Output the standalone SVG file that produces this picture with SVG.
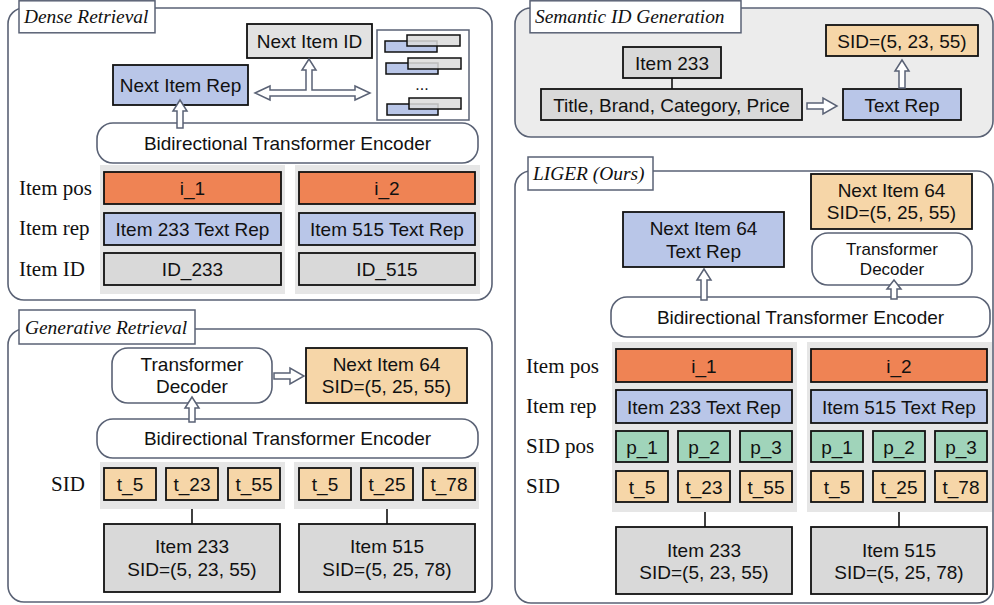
<svg xmlns="http://www.w3.org/2000/svg" width="994" height="605" viewBox="0 0 994 605">
<style>
.panel{fill:#ffffff;stroke:#5a6275;stroke-width:1.6}
.panelg{fill:#ececec;stroke:#5a6275;stroke-width:1.6}
.ttl{fill:#ffffff;stroke:#5a6275;stroke-width:1.5}
.ttlt{font-family:"Liberation Serif","Times New Roman",serif;font-style:italic;font-size:19.4px;fill:#111}
.lbl{font-family:"Liberation Serif","Times New Roman",serif;font-size:21px;fill:#111}
.t{font-family:"Liberation Sans",Arial,sans-serif;font-size:19px;fill:#111;text-anchor:middle}
.ts{font-family:"Liberation Sans",Arial,sans-serif;font-size:17px;fill:#111;text-anchor:middle}
.box{stroke:#111;stroke-width:1.8}
.round{fill:#ffffff;stroke:#5a6275;stroke-width:1.6}
.bg{fill:#e6e6e6}
.or{fill:#ef8354}
.bl{fill:#b9c6e8}
.lo{fill:#f6d6a8}
.gr{fill:#a0d4ba}
.gy{fill:#d9d9d9}
.gy2{fill:#e2e2e2}
.arr{fill:#ffffff;stroke:#5a6275;stroke-width:1.5;stroke-linejoin:miter}
.ln{stroke:#111;stroke-width:1.6;fill:none}
</style>

<!-- Panels -->
<g id="panel-dense">
<rect class="panel" x="8" y="8" width="484" height="292" rx="16"/>
<rect class="ttl" x="19" y="0.8" width="136" height="32"/>
<text class="ttlt" x="24" y="23">Dense Retrieval</text>
</g>
<g id="panel-generative">
<rect class="panel" x="8" y="329" width="484" height="273" rx="16"/>
<rect class="ttl" x="19" y="310" width="176" height="34"/>
<text class="ttlt" x="25" y="334">Generative Retrieval</text>
</g>
<g id="panel-semantic">
<rect class="panelg" x="515" y="8" width="478" height="129" rx="16"/>
<rect class="ttl" x="530" y="0.8" width="211" height="32"/>
<text class="ttlt" x="535" y="23">Semantic ID Generation</text>
</g>
<g id="panel-liger">
<rect class="panel" x="515" y="171" width="478" height="432" rx="16"/>
<rect class="ttl" x="528" y="157" width="125" height="33"/>
<text class="ttlt" x="533" y="180">LIGER (Ours)</text>
</g>

<!-- Dense Retrieval -->
<g id="dense-labels">
<text class="lbl" x="19" y="195">Item pos</text>
<text class="lbl" x="19" y="235">Item rep</text>
<text class="lbl" x="19" y="276">Item ID</text>
</g>
<g id="dense-bg">
<rect class="bg" x="100" y="165" width="185" height="129"/>
<rect class="bg" x="295" y="165" width="185" height="129"/>
</g>
<g id="dense-encoder">
<rect class="round" x="97" y="123" width="381" height="40" rx="16"/>
<text class="t" x="287.5" y="149.5">Bidirectional Transformer Encoder</text>
</g>
<g id="dense-next-rep">
<rect class="box bl" x="113" y="65" width="135" height="40"/>
<text class="t" x="180.5" y="91.5">Next Item Rep</text>
</g>
<g id="dense-next-id">
<rect class="box gy2" x="247" y="24" width="125" height="34"/>
<text class="t" x="309.5" y="47.5">Next Item ID</text>
</g>
<g id="dense-index">
<rect x="377" y="30" width="92" height="90" fill="#ffffff" stroke="#5a6275" stroke-width="1.5"/>
<rect class="bl" x="385" y="41" width="52" height="11" stroke="#111" stroke-width="1.5"/>
<rect x="407" y="35" width="53" height="11" fill="#dcdcdc" fill-opacity="0.85" stroke="#111" stroke-width="1.5"/>
<rect class="bl" x="386" y="63" width="52" height="11" stroke="#111" stroke-width="1.5"/>
<rect x="408" y="58" width="53" height="11" fill="#dcdcdc" fill-opacity="0.85" stroke="#111" stroke-width="1.5"/>
<text class="t" x="422" y="90" style="font-size:16px">...</text>
<rect class="bl" x="387" y="104" width="51" height="11" stroke="#111" stroke-width="1.5"/>
<rect x="409" y="98" width="52" height="11" fill="#dcdcdc" fill-opacity="0.85" stroke="#111" stroke-width="1.5"/>
</g>
<g id="dense-i1">
<rect class="box or" x="104" y="172" width="177" height="32"/>
<text class="t" x="192.5" y="195">i_1</text>
</g>
<g id="dense-i2">
<rect class="box or" x="299" y="172" width="176" height="32"/>
<text class="t" x="387" y="195">i_2</text>
</g>
<g id="dense-rep233">
<rect class="box bl" x="104" y="213" width="177" height="32"/>
<text class="t" x="192.5" y="236">Item 233 Text Rep</text>
</g>
<g id="dense-rep515">
<rect class="box bl" x="299" y="213" width="176" height="32"/>
<text class="t" x="387" y="236">Item 515 Text Rep</text>
</g>
<g id="dense-id233">
<rect class="box gy" x="104" y="253" width="177" height="32"/>
<text class="t" x="192.5" y="276">ID_233</text>
</g>
<g id="dense-id515">
<rect class="box gy" x="299" y="253" width="176" height="32"/>
<text class="t" x="387" y="276">ID_515</text>
</g>

<!-- Generative Retrieval -->
<g id="gen-labels">
<text class="lbl" x="51" y="491">SID</text>
</g>
<g id="gen-bg">
<rect class="bg" x="100" y="462" width="185" height="47"/>
<rect class="bg" x="294" y="462" width="185" height="47"/>
</g>
<g id="gen-decoder">
<rect class="round" x="112" y="348" width="160" height="55" rx="16"/>
<text class="t" x="192" y="371">Transformer</text>
<text class="t" x="192" y="393">Decoder</text>
</g>
<g id="gen-next">
<rect class="box lo" x="306" y="348" width="161" height="55"/>
<text class="t" x="386.5" y="371">Next Item 64</text>
<text class="t" x="386.5" y="393">SID=(5, 25, 55)</text>
</g>
<g id="gen-encoder">
<rect class="round" x="97" y="419" width="381" height="39" rx="16"/>
<text class="t" x="287.5" y="445">Bidirectional Transformer Encoder</text>
</g>
<g id="gen-tokens">
<rect class="box lo" x="104" y="468" width="52" height="32"/><text class="t" x="130" y="491">t_5</text>
<rect class="box lo" x="166" y="468" width="52" height="32"/><text class="t" x="192" y="491">t_23</text>
<rect class="box lo" x="228" y="468" width="52" height="32"/><text class="t" x="254" y="491">t_55</text>
<rect class="box lo" x="299" y="468" width="52" height="32"/><text class="t" x="325" y="491">t_5</text>
<rect class="box lo" x="361" y="468" width="52" height="32"/><text class="t" x="387" y="491">t_25</text>
<rect class="box lo" x="423" y="468" width="52" height="32"/><text class="t" x="449" y="491">t_78</text>
</g>
<g id="gen-item233">
<rect class="box gy" x="104" y="524" width="176" height="68"/>
<text class="t" x="192" y="553">Item 233</text>
<text class="t" x="192" y="576">SID=(5, 23, 55)</text>
</g>
<g id="gen-item515">
<rect class="box gy" x="299" y="524" width="176" height="68"/>
<text class="t" x="387" y="553">Item 515</text>
<text class="t" x="387" y="576">SID=(5, 25, 78)</text>
</g>

<!-- Semantic ID Generation -->
<g id="sem-item233">
<rect class="box gy" x="623" y="47" width="98" height="31"/>
<text class="t" x="672" y="69.5">Item 233</text>
</g>
<g id="sem-attrs">
<rect class="box gy" x="541" y="89" width="261" height="31"/>
<text class="t" x="671.5" y="111.5">Title, Brand, Category, Price</text>
</g>
<g id="sem-textrep">
<rect class="box bl" x="843" y="89" width="118" height="31"/>
<text class="t" x="902" y="111.5">Text Rep</text>
</g>
<g id="sem-sid">
<rect class="box lo" x="826" y="25" width="152" height="31"/>
<text class="t" x="902" y="47.5">SID=(5, 23, 55)</text>
</g>

<!-- LIGER -->
<g id="liger-labels">
<text class="lbl" x="526" y="373">Item pos</text>
<text class="lbl" x="526" y="413">Item rep</text>
<text class="lbl" x="526" y="453">SID pos</text>
<text class="lbl" x="526" y="493">SID</text>
</g>
<g id="liger-bg">
<rect class="bg" x="612" y="342" width="185" height="170"/>
<rect class="bg" x="807" y="342" width="185" height="170"/>
</g>
<g id="liger-next-rep">
<rect class="box bl" x="623" y="212" width="161" height="55"/>
<text class="t" x="703.5" y="235">Next Item 64</text>
<text class="t" x="703.5" y="258">Text Rep</text>
</g>
<g id="liger-next-sid">
<rect class="box lo" x="811" y="174" width="161" height="55"/>
<text class="t" x="891.5" y="197">Next Item 64</text>
<text class="t" x="891.5" y="219">SID=(5, 25, 55)</text>
</g>
<g id="liger-decoder">
<rect class="round" x="812" y="233" width="160" height="52" rx="16"/>
<text class="ts" x="892" y="255">Transformer</text>
<text class="ts" x="892" y="275">Decoder</text>
</g>
<g id="liger-encoder">
<rect class="round" x="611" y="297" width="379" height="40" rx="16"/>
<text class="t" x="800.5" y="324">Bidirectional Transformer Encoder</text>
</g>
<g id="liger-i1">
<rect class="box or" x="616" y="349" width="176" height="33"/>
<text class="t" x="704" y="372.5">i_1</text>
</g>
<g id="liger-i2">
<rect class="box or" x="811" y="349" width="176" height="33"/>
<text class="t" x="899" y="372.5">i_2</text>
</g>
<g id="liger-rep233">
<rect class="box bl" x="616" y="390" width="176" height="33"/>
<text class="t" x="704" y="413.5">Item 233 Text Rep</text>
</g>
<g id="liger-rep515">
<rect class="box bl" x="811" y="390" width="176" height="33"/>
<text class="t" x="899" y="413.5">Item 515 Text Rep</text>
</g>
<g id="liger-sidpos">
<rect class="box gr" x="616" y="431" width="52" height="31"/><text class="t" x="642" y="453.5">p_1</text>
<rect class="box gr" x="678" y="431" width="52" height="31"/><text class="t" x="704" y="453.5">p_2</text>
<rect class="box gr" x="740" y="431" width="52" height="31"/><text class="t" x="766" y="453.5">p_3</text>
<rect class="box gr" x="811" y="431" width="52" height="31"/><text class="t" x="837" y="453.5">p_1</text>
<rect class="box gr" x="873" y="431" width="52" height="31"/><text class="t" x="899" y="453.5">p_2</text>
<rect class="box gr" x="935" y="431" width="52" height="31"/><text class="t" x="961" y="453.5">p_3</text>
</g>
<g id="liger-sid">
<rect class="box lo" x="616" y="471" width="52" height="31"/><text class="t" x="642" y="493.5">t_5</text>
<rect class="box lo" x="678" y="471" width="52" height="31"/><text class="t" x="704" y="493.5">t_23</text>
<rect class="box lo" x="740" y="471" width="52" height="31"/><text class="t" x="766" y="493.5">t_55</text>
<rect class="box lo" x="811" y="471" width="52" height="31"/><text class="t" x="837" y="493.5">t_5</text>
<rect class="box lo" x="873" y="471" width="52" height="31"/><text class="t" x="899" y="493.5">t_25</text>
<rect class="box lo" x="935" y="471" width="52" height="31"/><text class="t" x="961" y="493.5">t_78</text>
</g>
<g id="liger-item233">
<rect class="box gy" x="616" y="527" width="176" height="67"/>
<text class="t" x="704" y="557">Item 233</text>
<text class="t" x="704" y="579">SID=(5, 23, 55)</text>
</g>
<g id="liger-item515">
<rect class="box gy" x="811" y="527" width="176" height="67"/>
<text class="t" x="899" y="557">Item 515</text>
<text class="t" x="899" y="579">SID=(5, 25, 78)</text>
</g>

<!-- Connectors -->
<g id="connectors">
<polygon class="arr" points="177,128 177,111 173,111 180,100 187,111 183,111 183,128"/>
<polygon class="arr" points="255,93 270,86 270,90 306,90 306,70 302,70 309,59 316,70 312,70 312,90 355,90 355,86 370,93 355,100 355,96 270,96 270,100"/>
<polygon class="arr" points="189,422 189,408 185,408 192,397 199,408 195,408 195,422"/>
<polygon class="arr" points="274,373 290,373 290,368 304,376 290,384 290,379 274,379"/>
<line class="ln" x1="192" y1="509" x2="192" y2="524"/>
<line class="ln" x1="387" y1="509" x2="387" y2="524"/>
<line class="ln" x1="672" y1="78" x2="672" y2="89"/>
<polygon class="arr" points="807,103 823,103 823,98 837,106 823,114 823,109 807,109"/>
<polygon class="arr" points="899,88 899,71 895,71 902,60 909,71 905,71 905,88"/>
<polygon class="arr" points="701,300 701,280 697,280 704,269 711,280 707,280 707,300"/>
<polygon class="arr" points="891,299 891,289 887,289 894,280 901,289 897,289 897,299"/>
<line class="ln" x1="705" y1="512" x2="705" y2="527"/>
<line class="ln" x1="899" y1="512" x2="899" y2="527"/>
</g>
</svg>
